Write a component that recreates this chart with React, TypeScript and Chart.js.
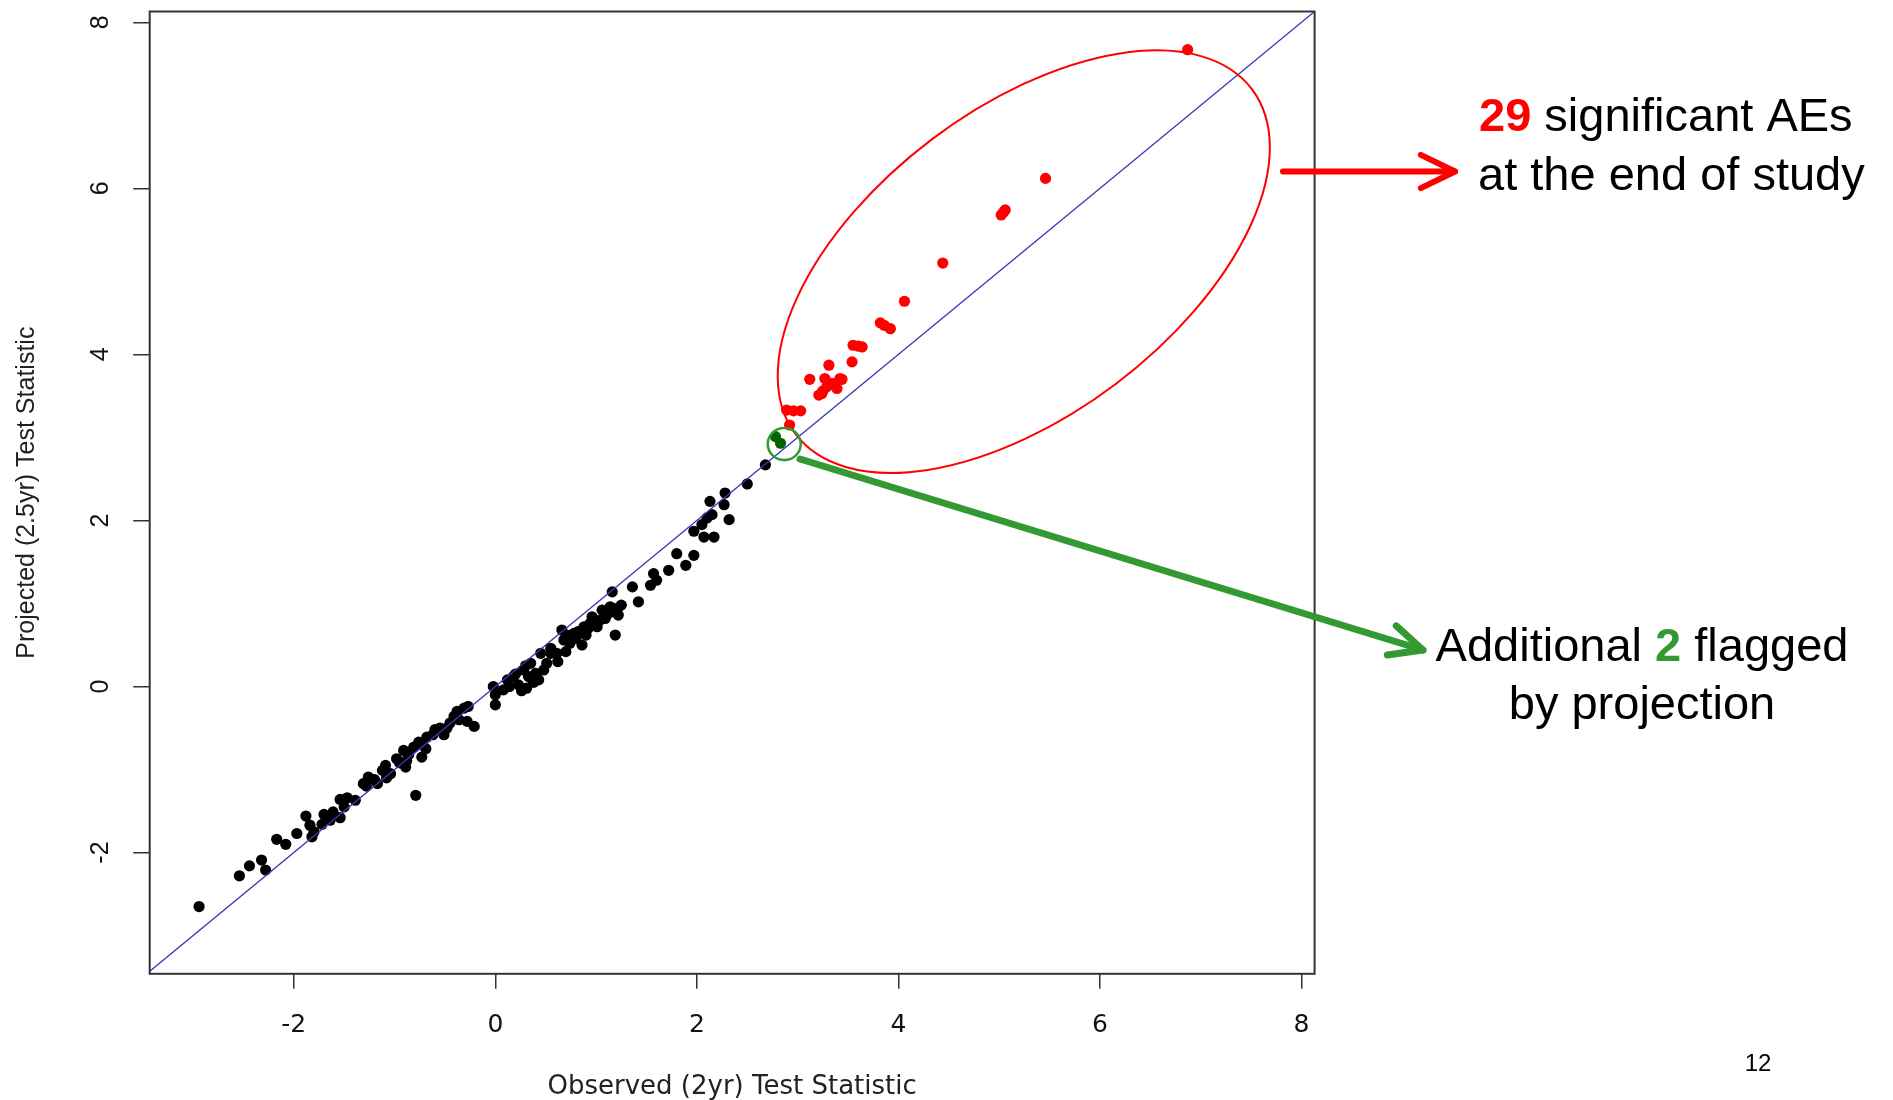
import React, { useEffect, useRef } from "react";
import { Chart, registerables } from "chart.js";

Chart.register(...registerables);

// ---- axis setup ----
const xTicks = [-2, 0, 2, 4, 6, 8];
const yTicks = [-2, 0, 2, 4, 6, 8];
const xRange = [-3.43, 8.13];
const yRange = [-3.46, 8.13];
const xTitle = "Observed (2yr) Test Statistic";
const yTitle = "Projected (2.5yr) Test Statistic";

// y = x reference line end points
const refLineX = [-3.5, 8.2];
const refLineY = [-3.5, 8.2];

// ---- data: black (not significant) ----
const blackX = [
  -2.94, -2.54, -2.44, -2.32, -2.28, -2.17, -2.08, -1.97, -1.88, -1.84, -1.8, -1.82, -1.7, -1.61, -1.64, -1.54, -1.54, -1.47,
  -1.39, -1.31, -1.26, -1.17, -1.12, -1.09, -1.04, -0.98, -0.89, -0.88, -0.91, -0.79, -0.81, -0.73, -0.76, -0.68, -0.69, -0.6,
  -0.51, -0.55, -0.41, -0.38, -0.31, -0.27, -0.28, -0.21, -0.02, 0.0, 0.0, 0.12, 0.18, 0.23, 0.31, 0.28, 0.35, 0.4, 0.43, 0.48,
  0.51, 0.55, 0.45, 0.55, 0.38, 0.33, 0.2, 0.08, -0.45, -0.95, -1.2, -0.62,
  0.61, 0.66, 0.68, 0.74, 0.78, 0.86, 0.88, 0.94, 0.96, 1.01, 1.06, 1.09, 1.14, 1.21, 1.22, 1.16, 1.19, 1.36, 1.42, 1.54, 0.71,
  0.8, 0.9,
  1.57, 1.6, 1.72, 1.8, 1.89, 1.97, 1.97, 2.05, 2.07, 2.17, 2.1, 2.15, 2.13, 2.27, 2.32, 2.28, 2.5, 2.68,
  0.62, 0.7, 0.82, 0.92, 1.04, 1.12, 1.25, 0.3, 0.14, 0.26, -1.28, -1.08, -0.86, -0.72, -0.48, -0.36, -1.5, -1.72,
];
const blackY = [
  -2.65, -2.28, -2.16, -2.09, -2.21, -1.84, -1.9, -1.77, -1.56, -1.67, -1.75, -1.81, -1.54, -1.51, -1.61, -1.58, -1.36, -1.34,
  -1.37, -1.17, -1.09, -1.17, -1.01, -0.95, -1.05, -0.87, -0.97, -0.89, -0.77, -1.31, -0.73, -0.85, -0.67, -0.61, -0.75, -0.52,
  -0.58, -0.5, -0.36, -0.3, -0.26, -0.24, -0.42, -0.48, 0.0, -0.1, -0.22, 0.08, 0.12, 0.02, -0.02, 0.2, 0.28, 0.16, 0.08, 0.2,
  0.28, 0.4, 0.4, 0.46, 0.05, 0.12, 0.15, -0.04, -0.44, -0.92, -1.12, -0.58,
  0.4, 0.68, 0.56, 0.52, 0.64, 0.5, 0.72, 0.76, 0.84, 0.72, 0.92, 0.82, 0.96, 0.94, 0.86, 1.14, 0.62, 1.2, 1.02, 1.22, 0.62,
  0.58, 0.62,
  1.36, 1.28, 1.4, 1.6, 1.46, 1.58, 1.87, 1.95, 1.8, 1.8, 2.03, 2.07, 2.23, 2.19, 2.01, 2.33, 2.44, 2.67,
  0.3, 0.42, 0.66, 0.7, 0.8, 0.88, 0.98, 0.25, 0.0, -0.05, -1.2, -1.1, -0.82, -0.7, -0.5, -0.4, -1.45, -1.66,
];

// ---- data: red (29 significant AEs) ----
const redX = [
  6.87, 5.46, 5.06, 5.02, 4.44, 4.06, 3.82, 3.92, 3.55, 3.64, 3.54, 3.31, 3.12, 3.27, 3.42, 3.39, 3.29, 3.21, 3.24, 2.89,
  3.03, 2.92, 3.34, 3.86, 3.6, 5.04, 3.25, 2.96, 3.44,
];
const redY = [
  7.67, 6.12, 5.74, 5.68, 5.1, 4.64, 4.38, 4.31, 4.11, 4.09, 3.91, 3.87, 3.7, 3.71, 3.71, 3.59, 3.61, 3.51, 3.53, 3.33,
  3.32, 3.15, 3.65, 4.35, 4.1, 5.71, 3.56, 3.32, 3.7,
];

// ---- data: green (2 flagged by projection) ----
const greenX = [2.78, 2.83];
const greenY = [3.01, 2.93];

const toPts = (xs: number[], ys: number[]) => xs.map((x, i) => ({ x, y: ys[i] }));

const AX_FONT_X = "'DejaVu Sans', 'Liberation Sans', Arial, sans-serif";
const AX_FONT_Y = "'Liberation Sans', Arial, sans-serif";
const NOTE_FONT = "'Liberation Sans', Arial, sans-serif";
const RED = "#ff0000";
const GREEN = "#339933";

function drawArrow(
  ctx: CanvasRenderingContext2D,
  x1: number, y1: number, x2: number, y2: number,
  color: string, width: number, headLen: number, headDeg: number
) {
  ctx.save();
  ctx.strokeStyle = color;
  ctx.lineWidth = width;
  ctx.lineCap = "round";
  ctx.lineJoin = "round";
  ctx.beginPath();
  ctx.moveTo(x1, y1);
  ctx.lineTo(x2, y2);
  ctx.stroke();
  const ang = Math.atan2(y2 - y1, x2 - x1);
  const a = (headDeg * Math.PI) / 180;
  ctx.beginPath();
  ctx.moveTo(x2 - headLen * Math.cos(ang - a), y2 - headLen * Math.sin(ang - a));
  ctx.lineTo(x2, y2);
  ctx.lineTo(x2 - headLen * Math.cos(ang + a), y2 - headLen * Math.sin(ang + a));
  ctx.stroke();
  ctx.restore();
}

const annotationPlugin = {
  id: "annotations",
  afterDraw(chart: any) {
    const ctx: CanvasRenderingContext2D = chart.ctx;
    const area = chart.chartArea;
    const xs = chart.scales.x;
    const ys = chart.scales.y;
    ctx.save();

    // plot box
    ctx.strokeStyle = "#333";
    ctx.lineWidth = 2;
    ctx.strokeRect(area.left, area.top, area.right - area.left, area.bottom - area.top);

    // red ellipse around significant AEs
    ctx.beginPath();
    ctx.ellipse(
      xs.getPixelForValue(5.244), ys.getPixelForValue(5.117),
      286, 153, (-37.1 * Math.PI) / 180, 0, Math.PI * 2
    );
    ctx.strokeStyle = RED;
    ctx.lineWidth = 2;
    ctx.stroke();

    // green circle around the two flagged AEs
    ctx.beginPath();
    ctx.ellipse(xs.getPixelForValue(2.867), ys.getPixelForValue(2.921), 16.5, 16, 0, 0, Math.PI * 2);
    ctx.strokeStyle = GREEN;
    ctx.lineWidth = 2.5;
    ctx.stroke();

    // arrows
    drawArrow(ctx, 1283, 171.5, 1455, 171.5, RED, 6, 38, 26);
    drawArrow(ctx, 800, 459, 1423, 650, GREEN, 7, 36, 25);

    // text: group 1
    ctx.textBaseline = "alphabetic";
    ctx.textAlign = "left";
    const fsize = 47;
    const bold = `bold ${fsize}px ${NOTE_FONT}`;
    const norm = `${fsize}px ${NOTE_FONT}`;
    let x = 1479;
    ctx.font = bold;
    ctx.fillStyle = RED;
    ctx.fillText("29", x, 131);
    x += ctx.measureText("29").width;
    ctx.font = norm;
    ctx.fillStyle = "#000";
    ctx.fillText(" significant AEs", x, 131);
    ctx.fillText("at the end of study", 1478, 189.5);

    // text: group 2 (centered)
    const cx2 = 1642;
    ctx.font = norm;
    const wA = ctx.measureText("Additional ").width;
    const wC = ctx.measureText(" flagged").width;
    ctx.font = bold;
    const wB = ctx.measureText("2").width;
    let sx = cx2 - (wA + wB + wC) / 2;
    ctx.font = norm;
    ctx.fillStyle = "#000";
    ctx.fillText("Additional ", sx, 660.5);
    sx += wA;
    ctx.font = bold;
    ctx.fillStyle = GREEN;
    ctx.fillText("2", sx, 660.5);
    sx += wB;
    ctx.font = norm;
    ctx.fillStyle = "#000";
    ctx.fillText(" flagged", sx, 660.5);
    ctx.textAlign = "center";
    ctx.fillText("by projection", cx2, 718.5);

    // page number
    ctx.font = `24px ${NOTE_FONT}`;
    ctx.fillText("12", 1758, 1071);

    ctx.restore();
  },
};

export default function App() {
  const canvasRef = useRef<HTMLCanvasElement | null>(null);

  useEffect(() => {
    const canvas = canvasRef.current;
    if (!canvas) return;
    const pointR = 5.6;
    const chart = new Chart(canvas, {
      type: "scatter",
      data: {
        datasets: [
          {
            label: "y = x",
            data: toPts(refLineX, refLineY),
            showLine: true,
            borderColor: "#3838b8",
            borderWidth: 1.3,
            pointRadius: 0,
            fill: false,
            clip: 0,
          } as any,
          {
            label: "flagged by projection",
            data: toPts(greenX, greenY),
            backgroundColor: "#006400",
            borderWidth: 0,
            pointRadius: pointR,
          },
          {
            label: "significant",
            data: toPts(redX, redY),
            backgroundColor: RED,
            borderWidth: 0,
            pointRadius: pointR,
          },
          {
            label: "other AEs",
            data: toPts(blackX, blackY),
            backgroundColor: "#000",
            borderWidth: 0,
            pointRadius: pointR,
          },
        ],
      },
      options: {
        animation: false,
        responsive: false,
        devicePixelRatio: 1,
        events: [],
        layout: { padding: { left: 0, top: 11.5, right: 1893 - 1314.6, bottom: 0 } },
        plugins: { legend: { display: false }, tooltip: { enabled: false } },
        scales: {
          x: {
            type: "linear",
            position: "bottom",
            min: xRange[0],
            max: xRange[1],
            afterBuildTicks: (axis: any) => {
              axis.ticks = xTicks.map((v) => ({ value: v }));
            },
            afterFit: (axis: any) => {
              axis.height = 1100 - 973.8;
              axis.paddingLeft = 0;
              axis.paddingRight = 0;
            },
            grid: { drawOnChartArea: false, drawTicks: true, tickLength: 15, color: "#333", lineWidth: 1.5 },
            border: { display: false },
            ticks: {
              padding: 21.5,
              color: "#111",
              font: { family: AX_FONT_X, size: 25 },
              maxRotation: 0,
              minRotation: 0,
            },
            title: {
              display: true,
              text: xTitle,
              color: "#222",
              font: { family: AX_FONT_X, size: 26, lineHeight: 1.0 },
              padding: { top: 0, bottom: 0 },
            },
          },
          y: {
            type: "linear",
            position: "left",
            min: yRange[0],
            max: yRange[1],
            afterBuildTicks: (axis: any) => {
              axis.ticks = yTicks.map((v) => ({ value: v }));
            },
            afterFit: (axis: any) => {
              axis.width = 149.7;
              axis.paddingTop = 0;
              axis.paddingBottom = 0;
            },
            grid: { drawOnChartArea: false, drawTicks: true, tickLength: 16.5, color: "#333", lineWidth: 1.5 },
            border: { display: false },
            ticks: {
              padding: 20.5,
              crossAlign: "center",
              minRotation: 90,
              maxRotation: 90,
              color: "#111",
              font: { family: AX_FONT_Y, size: 25 },
            },
            title: {
              display: true,
              text: yTitle,
              color: "#222",
              font: { family: AX_FONT_Y, size: 25 },
              padding: { top: 12, bottom: 0 },
            },
          },
        },
      } as any,
      plugins: [annotationPlugin],
    });
    return () => chart.destroy();
  }, []);

  return (
    <div style={{ position: "absolute", left: 0, top: 0, width: 1893, height: 1100, background: "#fff" }}>
      <canvas ref={canvasRef} width={1893} height={1100} style={{ display: "block" }} />
    </div>
  );
}
